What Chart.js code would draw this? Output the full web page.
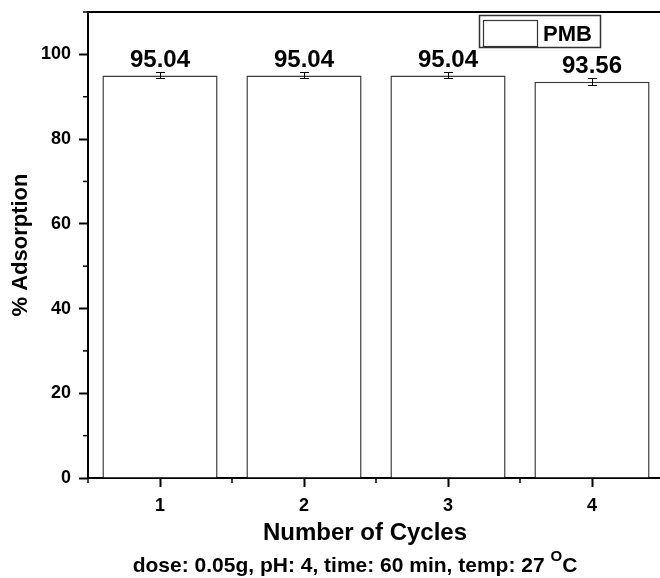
<!DOCTYPE html>
<html>
<head>
<meta charset="utf-8">
<title>% Adsorption vs Number of Cycles</title>
<script src="https://cdn.jsdelivr.net/npm/chart.js@4.4.0/dist/chart.umd.min.js"></script>
<style>
html, body { margin: 0; padding: 0; background: #fff; overflow: hidden; }
#wrap { width: 664px; height: 578px; }
</style>
</head>
<body>
<div id="wrap"><canvas id="myChart" width="664" height="578"></canvas></div>
<script>
var cycles = ['1', '2', '3', '4'];
var adsorption = [95.04, 95.04, 95.04, 93.56];
var adsorptionErr = [0.7, 0.7, 0.7, 0.8];
var yTicks = [0, 20, 40, 60, 80, 100];
var yMinorTicks = [10, 30, 50, 70, 90, 110];
var seriesName = 'PMB';

var fontName = '"Liberation Sans", Arial, Helvetica, sans-serif';
var ctx = document.getElementById('myChart').getContext('2d');

function line(c, x1, y1, x2, y2) {
    c.beginPath();
    c.moveTo(x1, y1);
    c.lineTo(x2, y2);
    c.stroke();
}

// frame, minor ticks, error bars, value labels, legend and bottom texts
var extras = {
    id: 'extras',
    afterDatasetsDraw: function(chart) {
        var c = chart.ctx, area = chart.chartArea;
        var xs = chart.scales.x, ys = chart.scales.y;
        c.save();
        c.strokeStyle = '#000';

        // top border
        c.lineWidth = 2;
        line(c, area.left, area.top, area.right, area.top);

        // minor ticks
        c.lineWidth = 1.5;
        yMinorTicks.forEach(function(v) {
            var py = ys.getPixelForValue(v);
            line(c, area.left - 5, py, area.left, py);
        });
        for (var i = 0; i <= cycles.length; i++) {
            var px = xs.getPixelForValue(i - 0.5);
            line(c, px, area.bottom, px, area.bottom + 5);
        }

        // error bars + labels
        var meta = chart.getDatasetMeta(0);
        c.lineWidth = 1;
        meta.data.forEach(function(bar, i) {
            var top = Math.round(ys.getPixelForValue(adsorption[i] + adsorptionErr[i])) + 0.5;
            var bot = Math.round(ys.getPixelForValue(adsorption[i] - adsorptionErr[i])) + 0.5;
            var bx = Math.round(bar.x) + 0.5;
            line(c, bx, top, bx, bot);
            line(c, bx - 4.5, top, bx + 4.5, top);
            line(c, bx - 4.5, bot, bx + 4.5, bot);

            c.fillStyle = '#000';
            c.font = 'bold 24px ' + fontName;
            c.textAlign = 'center';
            c.textBaseline = 'alphabetic';
            c.fillText(adsorption[i].toFixed(2), bar.x, top - 6);
        });

        // legend
        var lx = area.right - 185, ly = area.top + 3.5;
        c.lineWidth = 1.5;
        c.strokeStyle = '#333';
        c.strokeRect(lx + 0.5, ly, 121, 32);
        c.fillStyle = '#fff';
        c.fillRect(lx + 4.5, ly + 5, 54, 26);
        c.lineWidth = 1.2;
        c.strokeRect(lx + 4.5, ly + 5, 54, 26);
        c.fillStyle = '#000';
        c.font = 'bold 22px ' + fontName;
        c.textAlign = 'left';
        c.fillText(seriesName, lx + 64, ly + 25);

        // x axis title
        c.textAlign = 'center';
        c.font = 'bold 24px ' + fontName;
        c.fillText('Number of Cycles', 365, 540);

        // subtitle with superscript
        var main = 'dose: 0.05g, pH: 4, time: 60 min, temp: 27 ';
        c.font = 'bold 21px ' + fontName;
        var w1 = c.measureText(main).width;
        var w3 = c.measureText('C').width;
        c.font = 'bold 15px ' + fontName;
        var w2 = c.measureText('O').width;
        var sx = 355 - (w1 + w2 + w3) / 2;
        c.textAlign = 'left';
        c.font = 'bold 21px ' + fontName;
        c.fillText(main, sx, 572);
        c.font = 'bold 15px ' + fontName;
        c.fillText('O', sx + w1, 561);
        c.font = 'bold 21px ' + fontName;
        c.fillText('C', sx + w1 + w2, 572);

        c.restore();
    }
};

var myChart = new Chart(ctx, {
    type: 'bar',
    data: {
        labels: cycles,
        datasets: [{
            label: seriesName,
            data: adsorption,
            backgroundColor: '#ffffff',
            borderColor: '#3a3a3a',
            borderWidth: 1.5,
            barPercentage: 0.8,
            categoryPercentage: 1.0
        }]
    },
    options: {
        responsive: false,
        animation: false,
        layout: {
            padding: { top: 12, left: 0, right: 0, bottom: 0 }
        },
        scales: {
            x: {
                grid: {
                    display: true,
                    drawOnChartArea: false,
                    offset: false,
                    tickLength: 9,
                    tickWidth: 2,
                    tickColor: '#000'
                },
                border: { display: true, color: '#000', width: 2 },
                ticks: {
                    color: '#000',
                    padding: 8,
                    font: { family: fontName, size: 18, weight: 'bold' }
                },
                afterFit: function(scale) {
                    scale.height = 100;
                    scale.paddingLeft = 0;
                    scale.paddingRight = 0;
                }
            },
            y: {
                min: 0,
                max: 110,
                afterBuildTicks: function(axis) {
                    axis.ticks = yTicks.map(function(v) { return { value: v }; });
                },
                grid: {
                    display: true,
                    drawOnChartArea: false,
                    tickLength: 9,
                    tickWidth: 2,
                    tickColor: '#000'
                },
                border: { display: true, color: '#000', width: 2 },
                ticks: {
                    color: '#000',
                    padding: 8,
                    font: { family: fontName, size: 18, weight: 'bold' }
                },
                title: {
                    display: true,
                    text: '% Adsorption',
                    color: '#000',
                    padding: { top: 8, bottom: 0 },
                    font: { family: fontName, size: 22, weight: 'bold' }
                },
                afterFit: function(scale) {
                    scale.width = 88;
                    scale.paddingTop = 0;
                    scale.paddingBottom = 0;
                }
            }
        },
        plugins: {
            legend: { display: false },
            title: { display: false },
            tooltip: { enabled: false }
        }
    },
    plugins: [extras]
});
</script>
</body>
</html>
